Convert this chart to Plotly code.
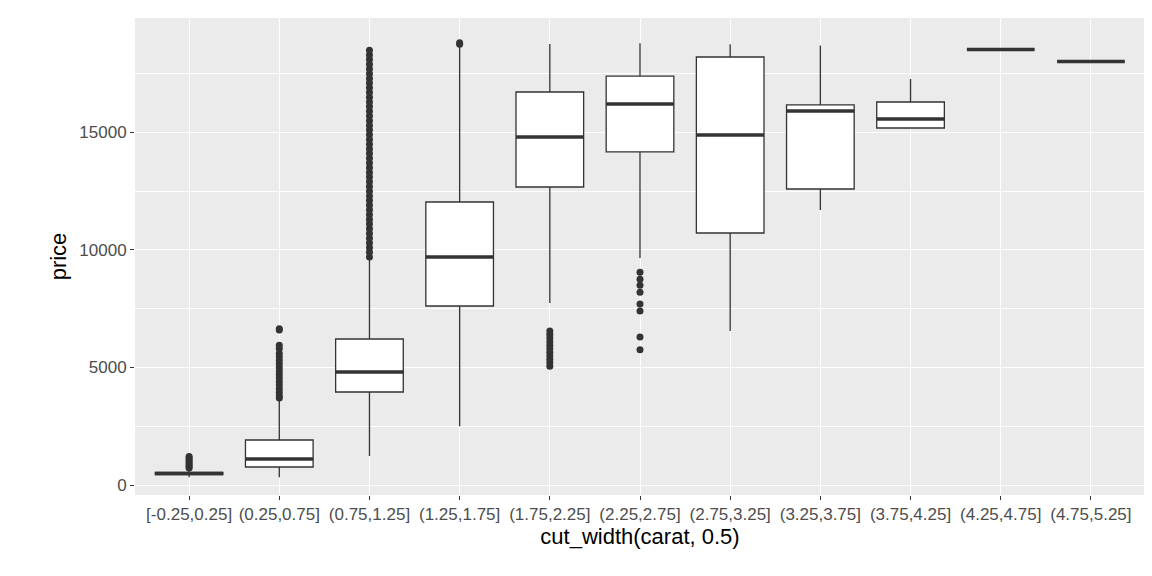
import plotly.graph_objects as go

# --- data ---
labels = ["[-0.25,0.25]", "(0.25,0.75]", "(0.75,1.25]", "(1.25,1.75]", "(1.75,2.25]",
          "(2.25,2.75]", "(2.75,3.25]", "(3.25,3.75]", "(3.75,4.25]", "(4.25,4.75]", "(4.75,5.25]"]
q1 = [440, 766, 3957, 7617, 12680, 14170, 10723, 12595, 15190, 18531, 18018]
median = [490, 1106, 4808, 9701, 14807, 16211, 14893, 15914, 15573, 18531, 18018]
q3 = [540, 1915, 6213, 12042, 16722, 17400, 18211, 16170, 16297, 18531, 18018]
low = [326, 335, 1234, 2500, 7744, 9660, 6550, 11700, 15190, 18531, 18018]
high = [690, 3640, 9600, 18700, 18765, 18800, 18750, 18700, 17276, 18531, 18018]

outliers = {
    0: [720, 780, 850, 920, 1000, 1080, 1150, 1210],
    1: [3700, 3800, 3950, 4100, 4250, 4400, 4550, 4700, 4850, 5000, 5150, 5300, 5450, 5600, 5800, 5950, 6600, 6650],
    2: [9700, 9900, 10100, 10300, 10500, 10700, 10900, 11100, 11300, 11500, 11700, 11900, 12100, 12300,
        12500, 12700, 12900, 13100, 13300, 13500, 13700, 13900, 14100, 14300, 14500, 14700, 14900, 15100,
        15300, 15500, 15700, 15900, 16100, 16300, 16500, 16700, 16900, 17100, 17300, 17500, 17700, 17900,
        18100, 18300, 18500],
    3: [18750, 18820],
    4: [5050, 5200, 5350, 5500, 5650, 5800, 5950, 6100, 6250, 6400, 6550],
    5: [9050, 8750, 8500, 8200, 7700, 7400, 6300, 5750],
}
y_ticks = [0, 5000, 10000, 15000]

LINE = "#333333"
idx = list(range(len(labels)))

fig = go.Figure()
fig.add_trace(go.Box(x=idx, q1=q1, median=median, q3=q3, lowerfence=low, upperfence=high,
                     width=0.75, whiskerwidth=0, fillcolor="white",
                     line=dict(color=LINE, width=1.3), boxpoints=False, showlegend=False))

# thicker median bars like ggplot
mx, my = [], []
for i, m in zip(idx, median):
    mx += [i - 0.375, i + 0.375, None]
    my += [m, m, None]
fig.add_trace(go.Scatter(x=mx, y=my, mode="lines", line=dict(color=LINE, width=3.5),
                         showlegend=False, hoverinfo="skip"))

ox, oy = [], []
for i, vals in outliers.items():
    ox += [i] * len(vals)
    oy += vals
fig.add_trace(go.Scatter(x=ox, y=oy, mode="markers", marker=dict(color=LINE, size=7),
                         showlegend=False))

tick_font = dict(family="Liberation Sans, Arial", size=17, color="#4D4D4D")
fig.update_layout(
    width=1152, height=576, paper_bgcolor="white", plot_bgcolor="#EBEBEB",
    margin=dict(l=127, r=15, t=10, b=89),
    font=dict(family="Liberation Sans, Arial", color="black"),
    xaxis=dict(range=[-0.6, 10.6], tickvals=idx, ticktext=labels, tickfont=tick_font,
               showgrid=True, gridcolor="white", gridwidth=1.3, zeroline=False,
               ticks="outside", ticklen=4, tickcolor="#333333", automargin=False,
               title=dict(text="cut_width(carat, 0.5)", font=dict(size=22), standoff=4)),
    yaxis=dict(range=[-425, 19870], tickvals=y_ticks, ticktext=[str(v) for v in y_ticks],
               tickfont=tick_font,
               showgrid=True, gridcolor="white", gridwidth=1.3, zeroline=False,
               ticks="outside", ticklen=4, tickcolor="#333333", automargin=False,
               minor=dict(tickvals=[2500, 7500, 12500, 17500], showgrid=True,
                          gridcolor="white", gridwidth=0.6),
               title=dict(text="price", font=dict(size=22), standoff=6)),
)

fig.write_html("out.html")
